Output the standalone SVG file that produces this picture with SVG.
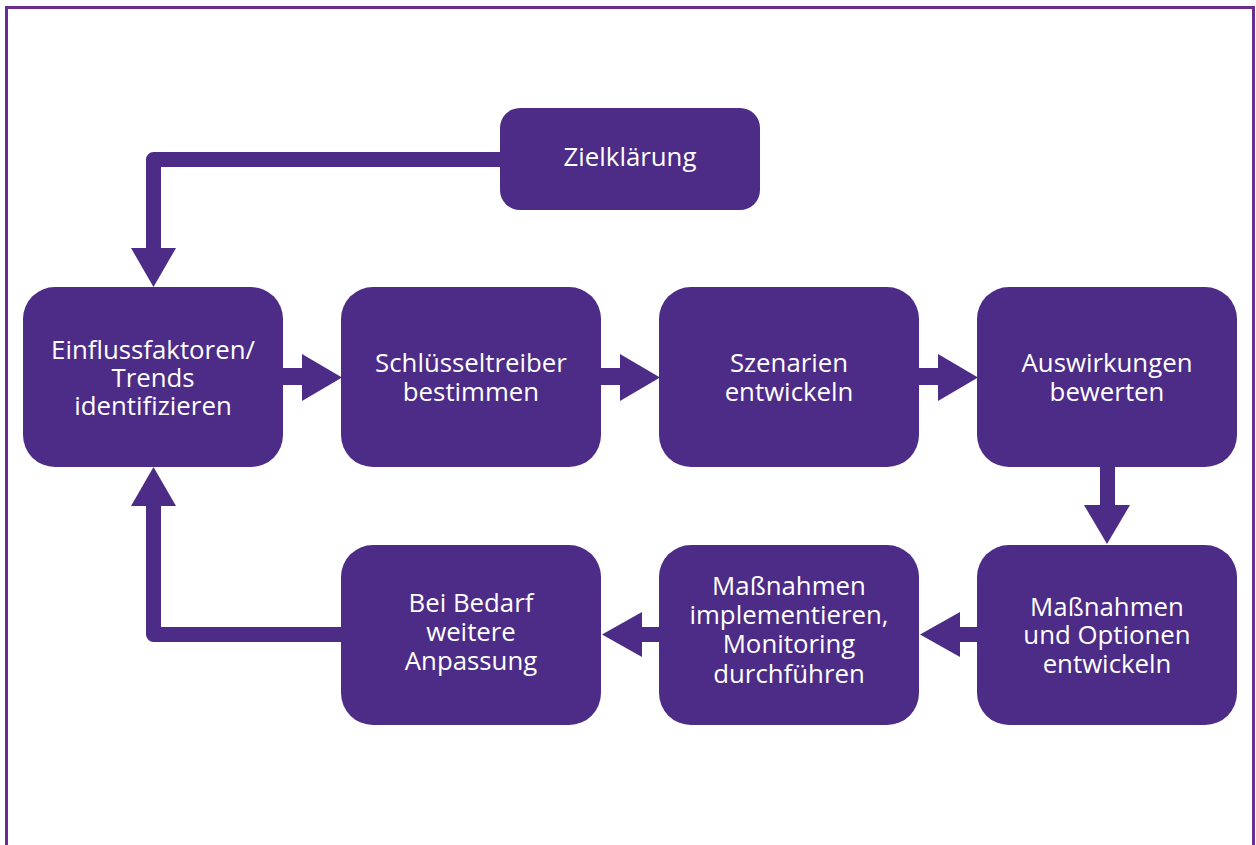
<svg xmlns="http://www.w3.org/2000/svg" width="1256" height="845" viewBox="0 0 1256 845">
  <style>
    .box { fill: #4c2c87; }
    .lbl { fill: #ffffff; font-family: "Open Sans", "Noto Sans", "Liberation Sans", sans-serif; font-size: 25.8px; text-anchor: middle; }
    .pipe { fill: none; stroke: #4c2c87; stroke-width: 15; stroke-linejoin: round; }
    .head { fill: #4c2c87; }
  </style>
  <rect x="0" y="0" width="1256" height="845" fill="#ffffff"/>
  <!-- outer frame, open at the bottom edge -->
  <path d="M6.5 845 V7.5 H1253.5 V845" fill="none" stroke="#6b2d90" stroke-width="3"/>

  <g id="connectors">
    <!-- Zielklärung to Einflussfaktoren -->
    <path class="pipe" d="M501 159.5 H153.5 V250"/>
    <polygon class="head" points="131,248 176,248 153.5,287"/>
    <!-- row 1, left to right -->
    <rect class="head" x="282" y="368" width="22" height="17"/>
    <polygon class="head" points="302,354 302,401 342,377.5"/>
    <rect class="head" x="600" y="368" width="22" height="17"/>
    <polygon class="head" points="620,354 620,401 660,377.5"/>
    <rect class="head" x="918" y="368" width="22" height="17"/>
    <polygon class="head" points="938,354 938,401 978,377.5"/>
    <!-- down from Auswirkungen -->
    <rect class="head" x="1100" y="466" width="15" height="41"/>
    <polygon class="head" points="1084,505 1130,505 1107,544"/>
    <!-- row 2, right to left -->
    <rect class="head" x="958" y="627" width="20" height="15"/>
    <polygon class="head" points="960,612 960,657 920,634.5"/>
    <rect class="head" x="640" y="627" width="20" height="15"/>
    <polygon class="head" points="642,612 642,657 602,634.5"/>
    <!-- Bei Bedarf back to Einflussfaktoren -->
    <path class="pipe" d="M342 634.5 H153.5 V504"/>
    <polygon class="head" points="131,506 176,506 153.5,467"/>
  </g>

  <g id="zielklaerung">
    <rect class="box" x="500" y="108" width="260" height="102" rx="20"/>
    <text class="lbl" x="630" y="166">Zielklärung</text>
  </g>
  <g id="einflussfaktoren">
    <rect class="box" x="23" y="287" width="260" height="180" rx="32"/>
    <text class="lbl" x="153" y="359">Einflussfaktoren/</text>
    <text class="lbl" x="153" y="387">Trends</text>
    <text class="lbl" x="153" y="415">identifizieren</text>
  </g>
  <g id="schluesseltreiber">
    <rect class="box" x="341" y="287" width="260" height="180" rx="32"/>
    <text class="lbl" x="471" y="372">Schlüsseltreiber</text>
    <text class="lbl" x="471" y="401">bestimmen</text>
  </g>
  <g id="szenarien">
    <rect class="box" x="659" y="287" width="260" height="180" rx="32"/>
    <text class="lbl" x="789" y="372">Szenarien</text>
    <text class="lbl" x="789" y="401">entwickeln</text>
  </g>
  <g id="auswirkungen">
    <rect class="box" x="977" y="287" width="260" height="180" rx="32"/>
    <text class="lbl" x="1107" y="372">Auswirkungen</text>
    <text class="lbl" x="1107" y="401">bewerten</text>
  </g>
  <g id="massnahmen-optionen">
    <rect class="box" x="977" y="545" width="260" height="180" rx="32"/>
    <text class="lbl" x="1107" y="616">Maßnahmen</text>
    <text class="lbl" x="1107" y="644">und Optionen</text>
    <text class="lbl" x="1107" y="673">entwickeln</text>
  </g>
  <g id="massnahmen-implementieren">
    <rect class="box" x="659" y="545" width="260" height="180" rx="32"/>
    <text class="lbl" x="789" y="595">Maßnahmen</text>
    <text class="lbl" x="789" y="624">implementieren,</text>
    <text class="lbl" x="789" y="653">Monitoring</text>
    <text class="lbl" x="789" y="683">durchführen</text>
  </g>
  <g id="bei-bedarf">
    <rect class="box" x="341" y="545" width="260" height="180" rx="32"/>
    <text class="lbl" x="471" y="612">Bei Bedarf</text>
    <text class="lbl" x="471" y="641">weitere</text>
    <text class="lbl" x="471" y="670">Anpassung</text>
  </g>
</svg>
